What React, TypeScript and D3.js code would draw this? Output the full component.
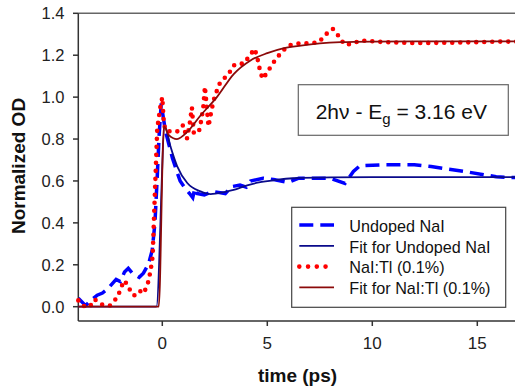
import React from "react";
import * as d3 from "d3";

const W = 515;
const H = 392;

// Undoped NaI data (time ps, normalized OD)
const undopedT = [-4.0, -3.65, -3.4, -3.1, -2.85, -2.6, -2.2, -2.0, -1.8, -1.62, -1.43, -1.1, -0.9, -0.65, -0.48, -0.35, -0.25, -0.15, -0.05, 0.05, 0.15, 0.3, 0.48, 0.71, 0.85, 1.05, 1.3, 1.45, 1.55, 1.65, 2.0, 2.4, 3.0, 3.3, 3.7, 4.0, 4.2, 4.8, 5.3, 6.0, 6.5, 8.0, 8.7, 9.1, 9.4, 10.4, 12.0, 12.8, 14.4, 15.9, 17.0];
const undopedV = [0.04, 0.005, 0.03, 0.055, 0.065, 0.085, 0.13, 0.12, 0.165, 0.183, 0.16, 0.14, 0.16, 0.205, 0.27, 0.4, 0.6, 0.82, 0.97, 0.9, 0.84, 0.78, 0.71, 0.64, 0.6, 0.57, 0.54, 0.52, 0.565, 0.54, 0.533, 0.55, 0.54, 0.573, 0.58, 0.57, 0.6, 0.613, 0.607, 0.593, 0.613, 0.613, 0.588, 0.645, 0.672, 0.677, 0.677, 0.669, 0.645, 0.62, 0.615];

// Fit for undoped NaI
const undopedFitT = [-4, -0.28, 0.12, 0.39, 0.71, 1.19, 1.82, 2.3, 3.0, 3.4, 4.0, 4.6, 5.4, 6.2, 8.0, 10, 17];
const undopedFitV = [0, 0, 0.86, 0.764, 0.67, 0.59, 0.55, 0.537, 0.548, 0.557, 0.578, 0.593, 0.605, 0.613, 0.617, 0.618, 0.618];

// NaI:Tl (0.1%) data
const dopedT = [-4.0, -3.7, -3.45, -3.22, -2.86, -2.5, -2.14, -2.0, -1.83, -1.6, -1.5, -1.3, -1.07, -0.88, -0.68, -0.56, -0.46, -0.35, -0.24, -0.1, 0.0, 0.07, 0.15, 0.5, 0.7, 1.0, 1.17, 1.3, 1.41, 1.5, 1.73, 1.82, 1.95, 2.03, 2.2, 2.35, 2.46, 2.7, 2.9, 3.17, 3.33, 3.54, 3.89, 4.17, 4.4, 4.52, 4.68, 4.79, 5.05, 5.29, 5.6, 5.98, 6.38, 7.14, 7.46, 7.82, 8.12, 8.41, 8.68, 9.05, 9.44, 10.5, 12.0, 14.0, 16.0, 17.0];
const dopedV = [0.03, 0.0, 0.0, 0.035, 0.01, 0.005, 0.045, 0.08, 0.125, 0.1, 0.065, 0.053, 0.075, 0.063, 0.115, 0.17, 0.24, 0.55, 0.85, 0.95, 1.0, 0.88, 0.84, 0.835, 0.835, 0.867, 0.8, 0.87, 0.95, 0.83, 0.83, 0.87, 0.95, 1.05, 0.86, 0.94, 0.99, 1.06, 1.086, 1.11, 1.146, 1.159, 1.16, 1.2, 1.23, 1.19, 1.114, 1.087, 1.127, 1.165, 1.205, 1.245, 1.255, 1.258, 1.263, 1.302, 1.326, 1.29, 1.25, 1.255, 1.27, 1.263, 1.258, 1.26, 1.265, 1.265];

// Fit for NaI:Tl (0.1%)
const dopedFitT = [-4, -0.17, 0.08, 0.3, 0.7, 1.2, 1.8, 2.6, 3.4, 4.2, 5.0, 5.8, 6.6, 7.5, 8.5, 10, 12, 17];
const dopedFitV = [0, 0, 0.86, 0.82, 0.8, 0.835, 0.91, 1.0, 1.11, 1.175, 1.21, 1.234, 1.246, 1.256, 1.262, 1.265, 1.266, 1.266];

const yTicks = [0, 0.2, 0.4, 0.6, 0.8, 1.0, 1.2, 1.4];
const xTicks = [0, 5, 10, 15];

const legendLabels = ["Undoped NaI", "Fit for Undoped NaI", "NaI:Tl (0.1%)", "Fit for NaI:Tl (0.1%)"];

const FONT = "Arial, 'Liberation Sans', Helvetica, sans-serif";

const BLUE = "#0000ff";
const NAVY = "#0a0a8a";
const RED = "#ff0000";
const MAROON = "#8b0a0a";

export default function App() {
  const x = d3.scaleLinear().domain([-4, 17]).range([78.3, 519.3]);
  const y = d3.scaleLinear().domain([0, 1.4]).range([306.7, 13.3]);
  const axisY = 321;

  const toPts = (t: number[], v: number[]) => t.map((tt, i) => [tt, v[i]] as [number, number]);
  const lin = d3.line<[number, number]>().x((d) => x(d[0])).y((d) => y(d[1]));
  const smooth = d3
    .line<[number, number]>()
    .x((d) => x(d[0]))
    .y((d) => y(d[1]))
    .curve(d3.curveMonotoneX);

  const undopedPath = lin(toPts(undopedT, undopedV)) || "";
  const undopedFitPath = smooth(toPts(undopedFitT, undopedFitV)) || "";
  const dopedPath = lin(toPts(dopedT, dopedV)) || "";
  const dopedFitPath = smooth(toPts(dopedFitT, dopedFitV)) || "";

  const legX = 291.7;
  const legY = 207.3;
  const rowH = 20.8;

  const styles = [
    { stroke: BLUE, width: 3.5, dash: "14 7", cap: "butt" },
    { stroke: NAVY, width: 1.8, dash: undefined, cap: "butt" },
    { stroke: RED, width: 4.6, dash: "0 8.75", cap: "round" },
    { stroke: MAROON, width: 1.8, dash: undefined, cap: "butt" },
  ];

  return (
    <svg
      width={W}
      height={H}
      viewBox={`0 0 ${W} ${H}`}
      style={{ position: "absolute", left: 0, top: 0, background: "#fff" }}
      fontFamily={FONT}
    >
      <rect x={0} y={0} width={W} height={H} fill="#fff" />

      {/* top frame line */}
      <line x1={78.3} x2={W} y1={13.3} y2={13.3} stroke="#666" strokeWidth={1.5} />

      {/* left axis */}
      <line x1={78.3} x2={78.3} y1={13.3} y2={axisY} stroke="#333" strokeWidth={1.5} />
      {yTicks.map((t) => (
        <g key={"y" + t}>
          <line x1={73} x2={78.3} y1={y(t)} y2={y(t)} stroke="#333" strokeWidth={1.5} />
          <text x={64.5} y={y(t)} dy="0.36em" textAnchor="end" fontSize={16.5} fill="#222">
            {t.toFixed(1)}
          </text>
        </g>
      ))}

      {/* bottom axis */}
      <line x1={78.3} x2={W} y1={axisY} y2={axisY} stroke="#333" strokeWidth={1.5} />
      {xTicks.map((t) => (
        <g key={"x" + t}>
          <line x1={x(t)} x2={x(t)} y1={axisY} y2={axisY + 5} stroke="#333" strokeWidth={1.5} />
          <text x={x(t)} y={348.5} textAnchor="middle" fontSize={17} fill="#222">
            {t}
          </text>
        </g>
      ))}

      {/* axis titles */}
      <text x={297.5} y={382} textAnchor="middle" fontSize={19} fontWeight="bold" fill="#111">
        time (ps)
      </text>
      <text
        transform={`translate(25,166) rotate(-90)`}
        textAnchor="middle"
        fontSize={19}
        fontWeight="bold"
        fill="#111"
      >
        Normalized OD
      </text>

      {/* series */}
      <path d={undopedPath} fill="none" stroke={BLUE} strokeWidth={3.5} strokeDasharray="14 7" />
      <path d={undopedFitPath} fill="none" stroke={NAVY} strokeWidth={1.8} />
      <path
        d={dopedPath}
        fill="none"
        stroke={RED}
        strokeWidth={4.6}
        strokeDasharray="0 8"
        strokeLinecap="round"
      />
      <path d={dopedFitPath} fill="none" stroke={MAROON} strokeWidth={1.8} />

      {/* annotation box */}
      <rect x={298.3} y={84.7} width={210} height={50.6} fill="#fff" stroke="#666" strokeWidth={1.2} />
      <text x={315.7} y={119.3} fontSize={21} fill="#111">
        2hν - E
        <tspan fontSize={15} dy={5}>
          g
        </tspan>
        <tspan dy={-5}> = 3.16 eV</tspan>
      </text>

      {/* legend */}
      <rect x={legX} y={legY} width={214} height={100} fill="#fff" stroke="#444" strokeWidth={1.2} />
      {legendLabels.map((lab, i) => {
        const s = styles[i];
        const cy = 225 + i * rowH;
        return (
          <g key={lab}>
            <line
              x1={299.3}
              x2={334}
              y1={cy}
              y2={cy}
              stroke={s.stroke}
              strokeWidth={s.width}
              strokeDasharray={s.dash}
              strokeLinecap={s.cap as any}
            />
            <text x={349.3} y={231.7 + i * rowH} fontSize={16.2} fill="#111">
              {lab}
            </text>
          </g>
        );
      })}
    </svg>
  );
}
